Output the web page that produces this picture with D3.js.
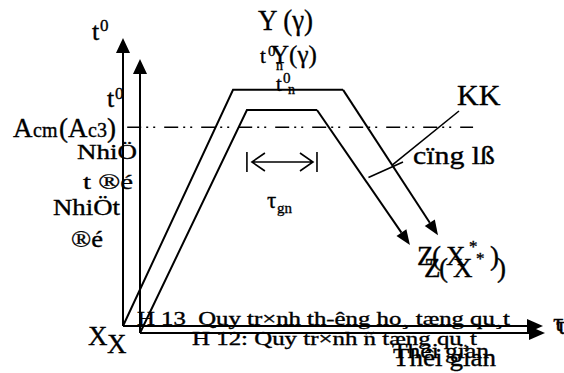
<!DOCTYPE html>
<html lang="vi">
<head>
  <meta charset="UTF-8">
  <title>Quy trình thường hoá / ủ</title>
  <style>
    body { margin: 0; background: #fff; }
    svg { display: block; font-family: "Liberation Serif", "Times New Roman", serif; }
    .ln { fill: none; stroke: #000; stroke-width: 2px; }
    .thin { stroke-width: 1.6px; }
    .acm { fill: none; stroke: #000; stroke-width: 1.6px; stroke-dasharray: 14,5,2,5,2,9; }
    text { fill: #000; stroke: #000; stroke-width: 0.35px; white-space: pre; }
  </style>
</head>
<body>
<script src="https://cdn.jsdelivr.net/npm/d3@7"></script>
<script>
  const width = 564, height = 373;

  // H 13: thường hoá, nguội ngoài không khí (KK)
  const timeH13 = [0, 5.24, 10.48, 15.0];
  const tempH13 = [0, 8.2, 8.2, 3.15];
  // H 12: ủ, nguội cùng lò
  const timeH12 = [0, 5.28, 8.74, 13.33];
  const tempH12 = [0, 8.14, 8.14, 3.21];
  // Acm (Ac3), read on the H 13 scale
  const acmTemp = 6.9;
  const acmTime = [0.2, 16.67];

  // texts (old VnTime encoding, kept as shown)
  const captionH13 = 'H 13  Quy tr×nh th-êng ho¸ tæng qu¸t';
  const captionH12 = 'H 12: Quy tr×nh ñ tæng qu¸t';
  const timeLabel = 'Thêi gian';
  const tempLabelA = ['NhiÖ', 't ®é'];
  const tempLabelB = ['NhiÖt', '®é'];
  const coolH13 = 'KK', coolH12 = 'cïng lß';

  const svg = d3.select('body').append('svg').attr('width', width).attr('height', height);

  const x13 = d3.scaleLinear().domain([0, 20]).range([123, 543]);
  const y13 = d3.scaleLinear().domain([0, 10]).range([326, 38]);
  const x12 = d3.scaleLinear().domain([0, 20]).range([140, 545]);
  const y12 = d3.scaleLinear().domain([0, 10]).range([333, 59]);

  function head(x1, y1, x2, y2, len, w){ // filled arrow head at (x2,y2)
    const a = Math.atan2(y2 - y1, x2 - x1);
    const bx = x2 - len * Math.cos(a), by = y2 - len * Math.sin(a);
    const px = -Math.sin(a) * w / 2, py = Math.cos(a) * w / 2;
    svg.append('path').attr('fill', '#000')
      .attr('d', `M${x2},${y2}L${bx + px},${by + py}L${bx - px},${by - py}Z`);
    return [bx, by];
  }

  function arrowLine(x1, y1, x2, y2, len, w){
    const b = head(x1, y1, x2, y2, len, w);
    svg.append('line').attr('class', 'ln')
      .attr('x1', x1).attr('y1', y1).attr('x2', b[0]).attr('y2', b[1]);
  }

  function txt(x, y, s, size, len){
    const t = svg.append('text').attr('x', x).attr('y', y).attr('font-size', size).text(s);
    if(len) t.attr('textLength', len).attr('lengthAdjust', 'spacingAndGlyphs');
    return t;
  }

  function drawDiagram(x, y, time, temp){
    const [t0, t1] = x.domain(), [T0, T1] = y.domain();
    arrowLine(x(t0), y(T0), x(t0), y(T1), 15, 14);
    arrowLine(x(t0), y(T0), x(t1), y(T0), 16, 14);
    const pts = d3.zip(time, temp);
    const line = d3.line().x(d => x(d[0])).y(d => y(d[1]));
    svg.append('path').attr('class', 'ln').attr('d', line(pts.slice(0, 3)));
    const a = pts[2], b = pts[3];
    arrowLine(x(a[0]), y(a[1]), x(b[0]), y(b[1]), 15, 12);
  }

  function along(x, y, time, temp, f){ // point on the cooling segment
    return [x(time[2] + f * (time[3] - time[2])), y(temp[2] + f * (temp[3] - temp[2]))];
  }

  // Acm line
  svg.append('line').attr('class', 'acm')
    .attr('x1', x13(acmTime[0])).attr('x2', x13(acmTime[1]))
    .attr('y1', y13(acmTemp)).attr('y2', y13(acmTemp));

  drawDiagram(x13, y13, timeH13, tempH13);
  drawDiagram(x12, y12, timeH12, tempH12);

  // τgn hold interval on H 12
  const hx0 = x12(timeH12[1]), hx1 = x12(timeH12[2]), hy = y12(6.24);
  svg.append('path').attr('class', 'ln thin')
    .attr('d', `M${hx0},${hy - 10}V${hy + 10}M${hx1},${hy - 10}V${hy + 10}M${hx0 + 5},${hy}H${hx1 - 4}`
      + `M${hx0 + 18},${hy - 9}L${hx0 + 5},${hy}L${hx0 + 18},${hy + 9}`
      + `M${hx1 - 17},${hy - 9}L${hx1 - 4},${hy}L${hx1 - 17},${hy + 9}`);
  txt(hx0 + 20, hy + 46, 'τ', 23);
  txt(hx0 + 30, hy + 51, 'gn', 15);

  // cooling leaders
  const kEnd = along(x13, y13, timeH13, tempH13, 0.517);
  svg.append('line').attr('class', 'ln thin')
    .attr('x1', 459).attr('y1', 111).attr('x2', kEnd[0]).attr('y2', kEnd[1]);
  const lEnd = along(x12, y12, timeH12, tempH12, 0.5);
  svg.append('line').attr('class', 'ln thin')
    .attr('x1', 403).attr('y1', 162).attr('x2', lEnd[0] + 5).attr('y2', lEnd[1]);
  txt(457, 105, coolH13, 30);
  txt(413, 164, coolH12, 25, 82);

  // left labels
  txt(92, 40, 't', 26); txt(100, 31, '0', 17);
  txt(107, 107, 't', 26); txt(115, 99, '0', 17);
  const acmY = y13(acmTemp) + 10;
  txt(13, acmY, 'A', 27); txt(33, acmY, 'cm', 20);
  txt(59, acmY, '(A', 27); txt(88, acmY, 'c3', 20); txt(107, acmY, ')', 27);
  txt(77, 159, tempLabelA[0], 22, 60);
  txt(83, 189, tempLabelA[1], 22, 50);
  txt(53, 215, tempLabelB[0], 23, 67);
  txt(71, 247, tempLabelB[1], 23, 32);
  txt(88, 345, 'X', 27);
  txt(107, 353, 'X', 27);

  // top labels
  txt(258, 30, 'Y (γ)', 29, 55);
  txt(260, 63, 't', 21); txt(268, 56, '0', 15); txt(276, 70, 'n', 14);
  txt(271, 63, 'Y(γ)', 25);
  txt(276, 91, 't', 21); txt(283, 83, '0', 15); txt(288, 94, 'n', 14);

  // end labels Z(X*)
  [[417, 265], [424, 277]].forEach(p => {
    txt(p[0], p[1], 'Z', 27);
    txt(p[0] + 15, p[1], '(', 27);
    txt(p[0] + 29, p[1], 'X', 27);
    txt(p[0] + 52, p[1] - 13, '*', 17);
    txt(p[0] + 73, p[1], ')', 27);
  });

  // captions and time axis labels
  txt(137, 325, captionH13, 18, 373);
  txt(192, 345, captionH12, 19, 285);
  txt(392, 358, timeLabel, 22, 97);
  txt(393, 366, timeLabel, 25, 103);
  txt(553, 331, 'τ', 26);
  txt(556, 334, 'τ', 26);
</script>
</body>
</html>
